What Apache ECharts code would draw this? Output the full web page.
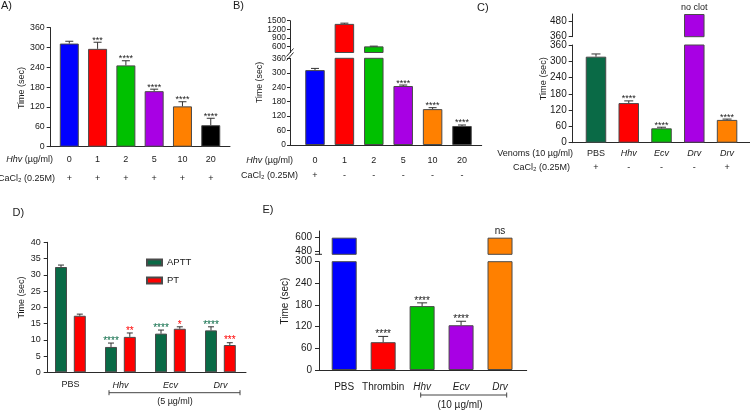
<!DOCTYPE html>
<html><head><meta charset="utf-8">
<script src="https://cdn.jsdelivr.net/npm/echarts@6/dist/echarts.min.js"></script>
<style>html,body{margin:0;padding:0;background:#fff}#c{width:750px;height:412px}</style>
</head><body><div id="c"></div>
<script>
const FONT = '"Liberation Sans", Arial, sans-serif';
const AX = '#2a2a2a', TXT = '#1a1a1a';

// ---------- Panel A ----------
const aDose = ['0', '1', '2', '5', '10', '20'];
const aCaCl = ['+', '+', '+', '+', '+', '+'];
const aMean = [312, 296, 246, 168, 122, 65];
const aErr = [7, 20, 14, 6, 14, 21];
const aStars = ['', '***', '****', '****', '****', '****'];

// ---------- Panel B ----------
const bDose = ['0', '1', '2', '5', '10', '20'];
const bCaCl = ['+', '-', '-', '-', '-', '-'];
const bMean = [311, 1390, 612, 245, 149, 79];
const bErr = [7, 25, 8, 4, 6, 4];
const bStars = ['', '', '', '****', '****', '****'];
const bUpperTicks = [600, 900, 1200, 1500];

// ---------- Panel C ----------
const cVenoms = ['PBS', 'Hhv', 'Ecv', 'Drv', 'Drv'];
const cCaCl = ['+', '-', '-', '-', '+'];
const cMean = [317, 146, 53, 540, 84];   // Drv without CaCl2: no clot (top of axis)
const cErr = [10, 8, 4, 0, 3];
const cLabels = ['', '****', '****', 'no clot', '****'];
const cUpperTicks = [360, 480];

// ---------- Panel D ----------
const dCats = ['PBS', 'Hhv', 'Ecv', 'Drv'];
const dAPTT = [32.4, 7.8, 11.9, 12.9];
const dAPTTErr = [0.6, 1.2, 1.1, 1.1];
const dPT = [17.4, 10.9, 13.4, 8.4];
const dPTErr = [0.5, 1.2, 0.6, 0.7];
const dAPTTStars = ['', '****', '****', '****'];
const dPTStars = ['', '**', '*', '***'];

// ---------- Panel E ----------
const eCats = ['PBS', 'Thrombin', 'Hhv', 'Ecv', 'Drv'];
const eMean = [600, 77, 177, 124, 600];
const eErr = [0, 16, 9, 11, 0];
const eLabels = ['', '****', '****', '****', 'ns'];
const eUpperTicks = [480, 600];

// colours (style)
const C_BLUE = '#0000FF', C_RED = '#FF0000', C_GREEN = '#00C000', C_PURPLE = '#A800E4',
      C_ORANGE = '#FF8000', C_BLACK = '#000000', C_DKGREEN = '#0A6A46';
const abColors = [C_BLUE, C_RED, C_GREEN, C_PURPLE, C_ORANGE, C_BLACK];
const cColors = [C_DKGREEN, C_RED, C_GREEN, C_PURPLE, C_ORANGE];
const eColors = [C_BLUE, C_RED, C_GREEN, C_PURPLE, C_ORANGE];
const ITALIC = ['Hhv', 'Ecv', 'Drv'];

const option = {
  animation: false,
  grid: [], xAxis: [], yAxis: [], series: [], graphic: [],
  legend: {
    data: ['APTT', 'PT'], orient: 'vertical', left: 141, top: 252.5,
    itemWidth: 15, itemHeight: 6, itemGap: 8, icon: 'rect',
    textStyle: { fontSize: 9.5, fontFamily: FONT, color: TXT }
  }
};

function addGrid(l, t, w, h) {
  option.grid.push({ left: l, top: t, width: w, height: h });
  return option.grid.length - 1;
}
function tag(name) { return ITALIC.includes(name) ? '{i|' + name + '}' : '{n|' + name + '}'; }
function richFor(fs, lh) {
  return {
    n: { fontSize: fs, fontFamily: FONT, color: TXT, lineHeight: lh },
    i: { fontSize: fs, fontFamily: FONT, color: TXT, lineHeight: lh, fontStyle: 'italic' }
  };
}
function addX(gi, min, max, lab) {
  const ax = {
    type: 'value', gridIndex: gi, min: min, max: max, position: 'bottom',
    splitLine: { show: false }, axisTick: { show: false },
    axisLine: { show: !!lab, onZero: false, lineStyle: { color: AX, width: 1 } },
    axisLabel: { show: false }
  };
  if (lab) {
    ax.axisLabel = {
      show: true, customValues: lab.n, margin: lab.margin,
      formatter: v => lab.fn(Math.round(v)), rich: richFor(lab.fs, lab.lh)
    };
  }
  option.xAxis.push(ax);
  return option.xAxis.length - 1;
}
function addY(gi, min, max, fs, ticks) {
  const ax = {
    type: 'value', gridIndex: gi, min: min, max: max, position: 'left',
    splitLine: { show: false },
    axisLine: { show: true, onZero: false, lineStyle: { color: AX, width: 1 } },
    axisTick: { show: true, length: 4, lineStyle: { color: AX } },
    axisLabel: { fontSize: fs, fontFamily: FONT, color: TXT, margin: 6, formatter: v => String(v) }
  };
  if (Array.isArray(ticks)) {
    ax.axisTick.customValues = ticks;
    ax.axisLabel.customValues = ticks;
  } else {
    ax.interval = ticks;
  }
  option.yAxis.push(ax);
  return option.yAxis.length - 1;
}
function makeErr(labels, capW, offset, labColor, fs) {
  return function (params, api) {
    const i = api.value(0), m = api.value(1), e = api.value(2);
    const b = api.coord([i, m]);
    const t = api.coord([i, m + e]);
    const cx = b[0] + offset;
    const ch = [];
    if (e > 0) {
      ch.push({ type: 'line', shape: { x1: cx, y1: b[1], x2: cx, y2: t[1] }, style: { stroke: '#333', lineWidth: 1 } });
      ch.push({ type: 'line', shape: { x1: cx - capW / 2, y1: t[1], x2: cx + capW / 2, y2: t[1] }, style: { stroke: '#333', lineWidth: 1 } });
    }
    const lab = labels[i];
    if (lab) {
      const star = lab[0] === '*';
      ch.push({ type: 'text', style: {
        text: lab, x: cx, y: t[1] - (star ? 2 : 6), align: 'center', verticalAlign: 'middle',
        fontSize: star ? fs : fs - 0.5, fontFamily: FONT, fill: labColor } });
    }
    return { type: 'group', children: ch };
  };
}
function barSeries(name, xi, yi, idx, vals, colors, bw, extra) {
  return Object.assign({
    name: name, type: 'bar', xAxisIndex: xi, yAxisIndex: yi, barWidth: bw, clip: true, z: 2,
    itemStyle: { borderColor: '#4a4a4a', borderWidth: 1 },
    data: idx.map(i => ({ value: [i, vals[i]], itemStyle: colors ? { color: colors[i] } : undefined }))
  }, extra || {});
}
function errSeries(xi, yi, idx, mean, err, labels, capW, offset, col, fs) {
  return {
    type: 'custom', xAxisIndex: xi, yAxisIndex: yi, z: 3, clip: false,
    renderItem: makeErr(labels, capW, offset, col, fs),
    data: idx.map(i => [i, mean[i], err[i]])
  };
}
const range = n => Array.from({ length: n }, (_, i) => i);

// ===== Panel A =====
{
  const g = addGrid(50.7, 27.7, 179.3, 119);
  const xi = addX(g, -0.657, 5.68, { n: range(aDose.length), margin: 3.1, fs: 9, lh: 19,
    fn: v => '{n|' + aDose[v] + '}\n{n|' + aCaCl[v] + '}' });
  const yi = addY(g, 0, 360, 8.8, 60);
  const idx = range(aMean.length);
  option.series.push(barSeries('A', xi, yi, idx, aMean, abColors, 19));
  option.series.push(errSeries(xi, yi, idx, aMean, aErr, aStars, 8, 0, TXT, 9));
}

// ===== Panel B (broken axis) =====
{
  const LMAX = 360;
  const gl = addGrid(290, 58.3, 191.7, 86.7);
  const gu = addGrid(290, 20.7, 191.7, 31.8);
  const xl = addX(gl, -0.85, 5.67, { n: range(bDose.length), margin: 7.6, fs: 9, lh: 15.4,
    fn: v => '{n|' + bDose[v] + '}\n{n|' + bCaCl[v] + '}' });
  const xu = addX(gu, -0.85, 5.67, null);
  const yl = addY(gl, 0, LMAX, 8.4, 60);
  option.yAxis[yl].axisLabel.margin = 4; option.yAxis[yl].axisTick.length = 3;
  const yu = addY(gu, 400, 1500, 8.4, bUpperTicks);
  option.yAxis[yu].axisLabel.margin = 4; option.yAxis[yu].axisTick.length = 3;
  const all = range(bMean.length);
  const up = all.filter(i => bMean[i] > LMAX);
  const lo = all.filter(i => bMean[i] <= LMAX);
  option.series.push(barSeries('B', xl, yl, all, bMean, abColors, 19.5));
  option.series.push(barSeries('B2', xu, yu, up, bMean, abColors, 19.5));
  option.series.push(errSeries(xl, yl, lo, bMean, bErr, bStars, 8, 0, TXT, 9));
  option.series.push(errSeries(xu, yu, up, bMean, bErr, bStars, 8, 0, TXT, 9));
}

// ===== Panel C (broken axis) =====
{
  const LMAX = 360;
  const gl = addGrid(572.7, 45, 177.3, 97.7);
  const gu = addGrid(572.7, 14, 177.3, 22.7);
  const xl = addX(gl, -0.711, 4.70, { n: range(cVenoms.length), margin: 3.6, fs: 9, lh: 14,
    fn: v => tag(cVenoms[v]) + '\n{n|' + cCaCl[v] + '}' });
  const xu = addX(gu, -0.711, 4.70, null);
  const yl = addY(gl, 0, LMAX, 10, 60);
  const yu = addY(gu, 360, 540, 10, cUpperTicks);
  const all = range(cMean.length);
  const up = all.filter(i => cMean[i] > LMAX);
  const lo = all.filter(i => cMean[i] <= LMAX);
  option.series.push(barSeries('C', xl, yl, all, cMean, cColors, 20.5));
  option.series.push(barSeries('C2', xu, yu, up, cMean, cColors, 20.5));
  option.series.push(errSeries(xl, yl, lo, cMean, cErr, cLabels, 9, 0, TXT, 9));
  option.series.push(errSeries(xu, yu, up, cMean, cErr, cLabels, 9, 0, TXT, 9.5));
}

// ===== Panel D (grouped) =====
{
  const g = addGrid(47.7, 242.3, 198.3, 130);
  const xi = addX(g, -0.454, 3.512, { n: range(dCats.length), margin: 7.2, fs: 9, lh: 11,
    fn: v => tag(dCats[v]) });
  const yi = addY(g, 0, 40, 9, 5);
  option.yAxis[yi].axisLabel.margin = 7;
  const idx = range(dCats.length);
  const BW = 12, GAP = 6.8, OFF = (BW + GAP) / 2;
  option.series.push(barSeries('APTT', xi, yi, idx, dAPTT, null, BW,
    { itemStyle: { color: C_DKGREEN, borderColor: '#4a4a4a', borderWidth: 1 }, barGap: (GAP / BW * 100) + '%' }));
  option.series.push(barSeries('PT', xi, yi, idx, dPT, null, BW,
    { itemStyle: { color: C_RED, borderColor: '#4a4a4a', borderWidth: 1 }, barGap: (GAP / BW * 100) + '%' }));
  option.series.push(errSeries(xi, yi, idx, dAPTT, dAPTTErr, dAPTTStars, 6, -OFF, C_DKGREEN, 10));
  option.series.push(errSeries(xi, yi, idx, dPT, dPTErr, dPTStars, 6, OFF, C_RED, 10));
}

// ===== Panel E (broken axis) =====
{
  const LMAX = 300;
  const gl = addGrid(319, 261.7, 207.7, 108.3);
  const gu = addGrid(319, 231, 207.7, 23.3);
  const xl = addX(gl, -0.647, 4.685, { n: range(eCats.length), margin: 11.3, fs: 10, lh: 12,
    fn: v => tag(eCats[v]) });
  const xu = addX(gu, -0.647, 4.685, null);
  const yl = addY(gl, 0, LMAX, 10, 60);
  option.yAxis[yl].axisLabel.margin = 7;
  const yu = addY(gu, 450, 660, 10, eUpperTicks);
  option.yAxis[yu].axisLabel.margin = 7;
  const all = range(eMean.length);
  const up = all.filter(i => eMean[i] > LMAX);
  const lo = all.filter(i => eMean[i] <= LMAX);
  option.series.push(barSeries('E', xl, yl, all, eMean, eColors, 25));
  option.series.push(barSeries('E2', xu, yu, up, eMean, eColors, 25));
  option.series.push(errSeries(xl, yl, lo, eMean, eErr, eLabels, 10, 0, TXT, 10));
  option.series.push(errSeries(xu, yu, up, eMean, eErr, eLabels, 10, 0, TXT, 10.5));
}

// ===== Text & decorations =====
function txt(s, x, y, fs, align) {
  option.graphic.push({
    type: 'text', x: x, y: y, silent: true,
    style: { text: s, align: align || 'left', verticalAlign: 'middle', fontSize: fs, fontFamily: FONT, fill: TXT,
      rich: { i: { fontStyle: 'italic', fontSize: fs, fontFamily: FONT, fill: TXT } } }
  });
}
function vtxt(s, x, y, fs) {
  option.graphic.push({ type: 'text', x: x, y: y, rotation: Math.PI / 2, silent: true,
    style: { text: s, align: 'center', verticalAlign: 'middle', fontSize: fs, fontFamily: FONT, fill: TXT } });
}
function ln(x1, y1, x2, y2, col) {
  option.graphic.push({ type: 'line', silent: true, shape: { x1, y1, x2, y2 }, style: { stroke: col || '#444', lineWidth: 1 } });
}
txt('A)', 1, 6, 11); txt('B)', 233, 6, 11); txt('C)', 477, 7.5, 11);
txt('D)', 12.5, 212.5, 11); txt('E)', 262.5, 210, 11);
vtxt('Time (sec)', 21.5, 88, 9); vtxt('Time (sec)', 260, 82.5, 8.8); vtxt('Time (sec)', 543.3, 78.7, 9.2);
vtxt('Time (sec)', 21.7, 297.5, 9); vtxt('Time (sec)', 285, 301, 10);
txt('{i|Hhv} (µg/ml)', 53, 159.3, 9, 'right');
txt('CaCl₂ (0.25M)', 55, 178.3, 9, 'right');
txt('{i|Hhv} (µg/ml)', 293, 160.3, 9, 'right');
txt('CaCl₂ (0.25M)', 298, 175.7, 9, 'right');
txt('Venoms (10 µg/ml)', 573, 153.3, 9, 'right');
txt('CaCl₂ (0.25M)', 570, 167.3, 9, 'right');
// D bracket
ln(109, 392.7, 240, 392.7); ln(109, 390.2, 109, 395.2); ln(240, 390.2, 240, 395.2);
txt('(5 µg/ml)', 175, 401.5, 9, 'center');
// E bracket
ln(420.7, 395, 506.7, 395); ln(420.7, 392.5, 420.7, 397.5); ln(506.7, 392.5, 506.7, 397.5);
txt('(10 µg/ml)', 460, 405.5, 10, 'center');
// axis break marks
ln(286.5, 56.5, 293.5, 48.5, AX); ln(286.5, 60.5, 293.5, 52.5, AX);
ln(315, 254.3, 322, 254.3, AX);

const chart = echarts.init(document.getElementById('c'), null, { renderer: 'canvas' });
chart.setOption(option);
</script></body></html>
